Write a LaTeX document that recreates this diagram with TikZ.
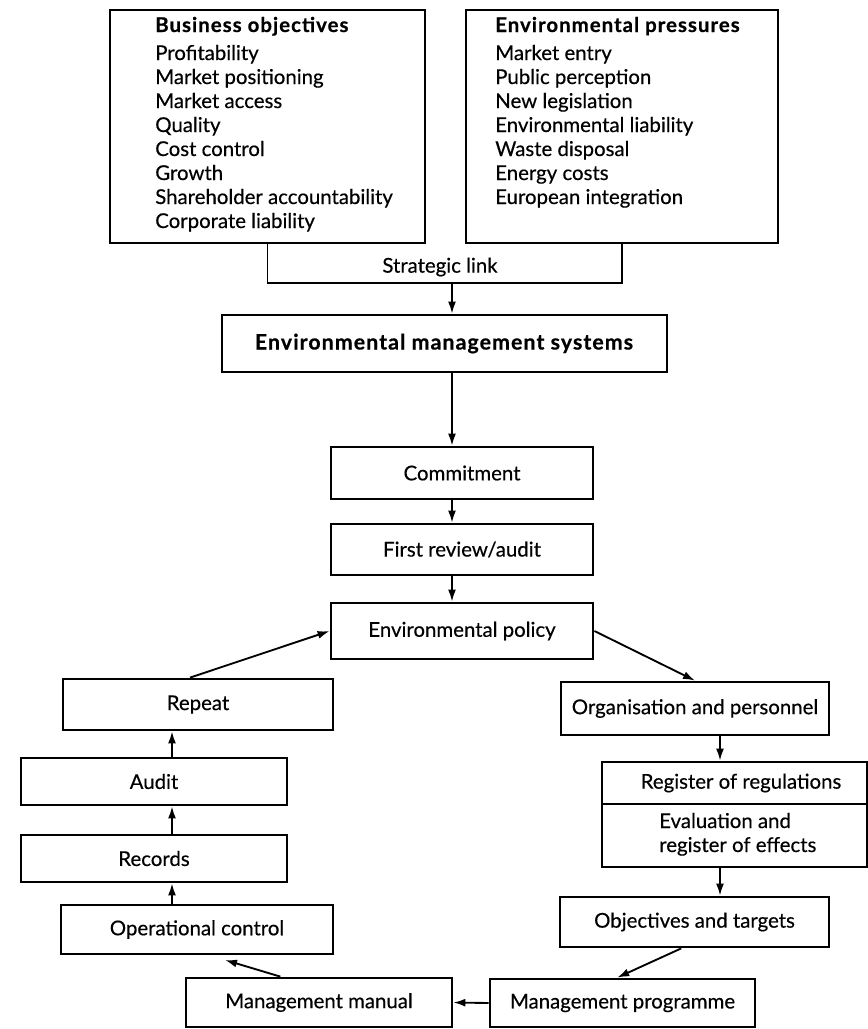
\documentclass[tikz,border=0pt]{standalone}
\usepackage{fontspec}
\setmainfont{Lato}[UprightFeatures={FakeBold=0.4}, BoldFeatures={FakeBold=0.6, LetterSpace=5}]
\usetikzlibrary{arrows.meta,calc}
\newcommand\mybox[6]{\node[box, minimum width={(#4-#2)*0.75pt}, minimum height={(#5-#3)*0.75pt}] (#1) at ({(#2+#4)/2},{(#3+#5)/2}) {#6};}
\begin{document}
\begin{tikzpicture}[x=0.75pt,y=-0.75pt,
  every node/.style={font=\fontsize{15.3}{18}\selectfont},
  box/.style={draw, line width=2.1pt, inner sep=0pt},
  conn/.style={line width=1.4pt},
  arr/.style={conn, -{Latex[length=9pt,width=6pt]}},
  lbl/.style={inner sep=0pt}]
\useasboundingbox (0,0) rectangle (868,1029);

% top boxes
\mybox{bo}{110}{10}{425}{243}{}
\mybox{ep}{466}{10}{778}{243}{}
\node[lbl, anchor=base west] (botxt) at (155,32) {\begin{tabular}[t]{@{}l@{}}
\textbf{Business objectives}\\[3pt]
Profitability\\ Market positioning\\ Market access\\ Quality\\ Cost control\\ Growth\\ Shareholder accountability\\ Corporate liability
\end{tabular}};
\node[lbl, anchor=base west] (eptxt) at (495,32) {\begin{tabular}[t]{@{}l@{}}
\textbf{Environmental pressures}\\[3pt]
Market entry\\ Public perception\\ New legislation\\ Environmental liability\\ Waste disposal\\ Energy costs\\ European integration
\end{tabular}};

% strategic link bracket
\coordinate (slc) at (440,283);
\coordinate (link) at (452,283);
\draw[conn] (bo.south) |- (slc) -| (ep.south);
\node[lbl] (sl) at (440,267) {Strategic link};

% central column
\mybox{ems}{222}{315}{667}{372}{\fontsize{16}{18}\selectfont\textbf{Environmental management systems}}
\mybox{com}{331}{447}{593}{499}{Commitment}
\mybox{rev}{331}{524}{593}{575}{First review/audit}
\mybox{pol}{331}{603}{593}{659}{Environmental policy}

\draw[arr] (link) -- (link |- ems.north);
\draw[arr] (ems.south -| link) -- (com.north -| link);
\draw[arr] (com.south -| link) -- (rev.north -| link);
\draw[arr] (rev.south -| link) -- (pol.north -| link);

% right column
\mybox{org}{561}{682}{829}{735}{Organisation and personnel}
\mybox{regA}{602}{762}{867}{804}{}
\mybox{regB}{602}{804}{867}{867}{}
\node[lbl] (regAt) at (741,783) {Register of regulations};
\node[lbl, anchor=base west] (regBt) at (659,828) {\begin{tabular}[t]{@{}l@{}}Evaluation and\\ register of effects\end{tabular}};
\mybox{obj}{560}{897}{829}{947}{Objectives and targets}
\mybox{prog}{490}{979}{755}{1027}{Management programme}
\mybox{man}{186}{978}{452}{1027}{Management manual}

% left column
\mybox{opc}{61}{905}{333}{954}{Operational control}
\mybox{rec}{21}{835}{287}{882}{Records}
\mybox{aud}{21}{758}{287}{805}{Audit}
\mybox{rep}{63}{679}{333}{730}{Repeat}

\coordinate (rx) at (720,0);
\coordinate (lx) at (172,0);
\coordinate (occ) at (225,960);

\draw[arr] (pol.east) -- (org.north);
\draw[arr] (org.south -| rx) -- (regA.north -| rx);
\draw[arr] (regB.south -| rx) -- (obj.north -| rx);
\draw[arr] ([xshift=-10pt]obj.south) -- ([xshift=-4pt]prog.north);
\draw[arr] (prog.west) -- (man.east);
\draw[arr] ([xshift=-29pt]man.north) -- (occ);
\draw[arr] (opc.north -| lx) -- (rec.south -| lx);
\draw[arr] (rec.north -| lx) -- (aud.south -| lx);
\draw[arr] (aud.north -| lx) -- (rep.south -| lx);
\draw[arr] ([xshift=-6pt]rep.north) -- (pol.west);
\end{tikzpicture}
\end{document}
